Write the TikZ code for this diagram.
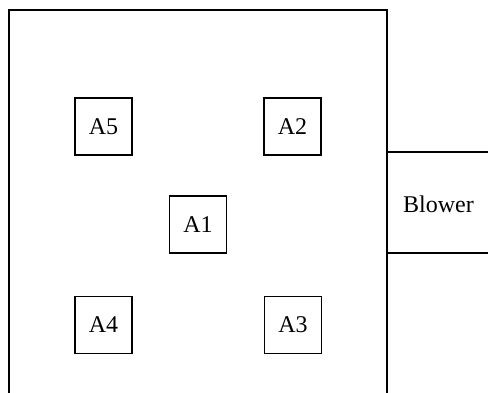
\documentclass[tikz,border=0pt]{standalone}
\usepackage{fontspec}
\setmainfont{Liberation Serif}
\begin{document}
\begin{tikzpicture}[x=1pt,y=-1pt,
  abox/.style={draw,line width=1.3pt,minimum width=57pt,minimum height=57pt,inner sep=0pt,font=\fontsize{24}{28}\selectfont},
  wall/.style={line width=1.8pt}]
\useasboundingbox (0,0) rectangle (488,392);
\clip (0,0) rectangle (488,392);
% room
\draw[wall] (9,400) -- (9,10) -- (387,10) -- (387,400);
% blower
\draw[wall] (495,152) -- (387,152) -- (387,253) -- (495,253);
\node[font=\fontsize{24}{28}\selectfont, anchor=west, inner sep=0pt] (blower) at (403,204) {Blower};
% sensors
\node[abox] (A5) at (103.5,126.5) {A5};
\node[abox] (A2) at (292.5,126.5) {A2};
\node[abox] (A1) at (198,224.5) {A1};
\node[abox] (A4) at (103.5,325) {A4};
\node[abox] (A3) at (293,325) {A3};
\end{tikzpicture}
\end{document}
